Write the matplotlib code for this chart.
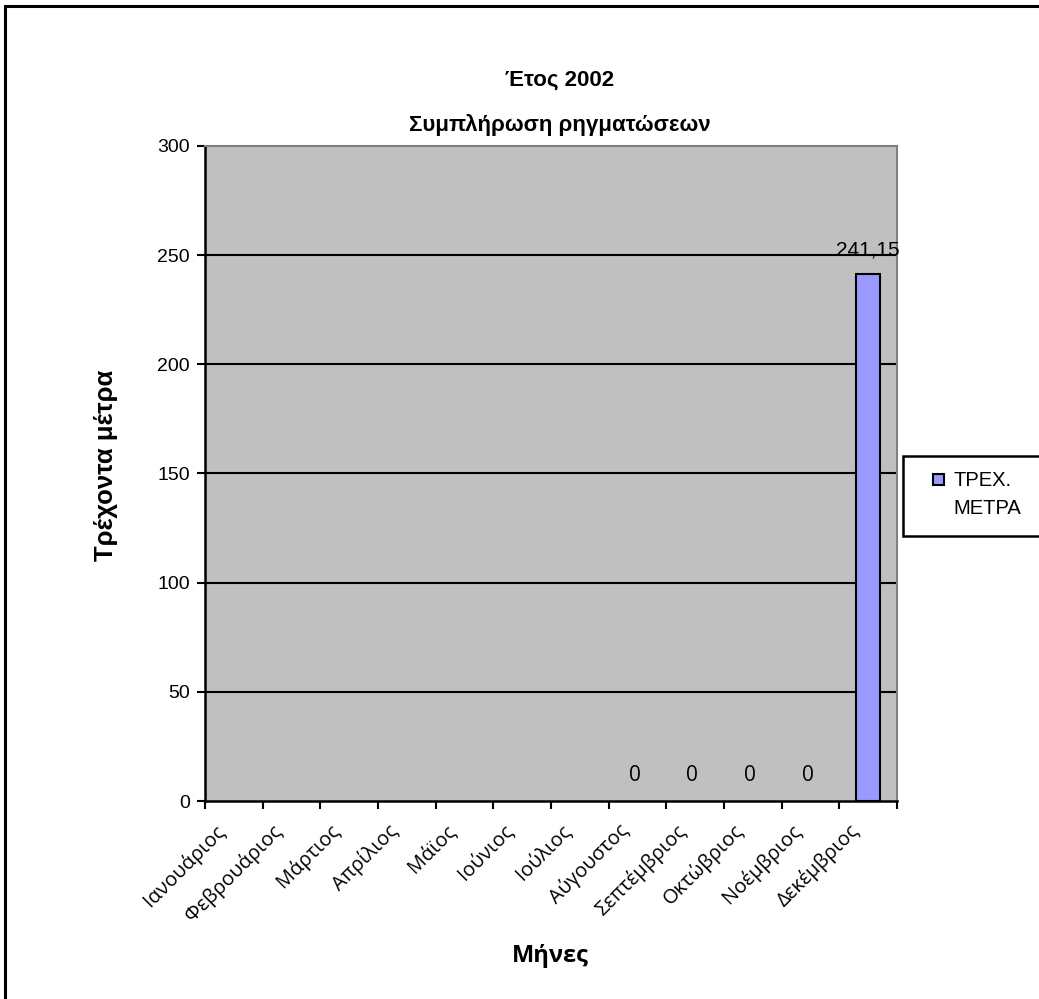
import numpy as np
import matplotlib
matplotlib.use("Agg")
import matplotlib.pyplot as plt
from matplotlib.patches import Rectangle
from matplotlib.transforms import ScaledTranslation

# ---- data ----
months = ["Ιανουάριος", "Φεβρουάριος", "Μάρτιος", "Απρίλιος", "Μάϊος", "Ιούνιος",
          "Ιούλιος", "Αύγουστος", "Σεπτέμβριος", "Οκτώβριος", "Νοέμβριος", "Δεκέμβριος"]
values = [np.nan, np.nan, np.nan, np.nan, np.nan, np.nan, np.nan, 0, 0, 0, 0, 241.15]
series_name = "ΤΡΕΧ. ΜΕΤΡΑ"
title_lines = ["Έτος 2002", "Συμπλήρωση ρηγματώσεων"]
x_label = "Μήνες"
y_label = "Τρέχοντα μέτρα"
y_ticks = [0, 50, 100, 150, 200, 250, 300]

W, H = 1039, 999
fig = plt.figure(figsize=(W / 100, H / 100), dpi=100)
fig.patch.set_facecolor("white")

def fx(px):
    return px / W

def fy(py):
    return 1 - py / H

L, R, T, B = 205, 897, 146, 801
ax = fig.add_axes([fx(L), fy(B), fx(R) - fx(L), fy(T) - fy(B)])
ax.set_facecolor("#C0C0C0")

x = np.arange(len(months))
vals = np.array(values, dtype=float)
bar_color = "#9999FF"
bars = ax.bar(x, np.nan_to_num(vals), width=0.42, color=bar_color,
              edgecolor="black", linewidth=1.5, zorder=3)
for i, v in enumerate(vals):
    if np.isnan(v) or v == 0:
        bars[i].set_visible(False)

ax.set_xlim(-0.5, len(months) - 0.5)
ax.set_ylim(0, 300)
ax.set_yticks(y_ticks)
ax.set_yticklabels([str(t) for t in y_ticks], fontfamily="Liberation Sans", fontsize=14)
for t in y_ticks[1:-1]:
    ax.axhline(t, color="black", linewidth=1.5, zorder=1)

ax.set_xticks(x)
ax.set_xticklabels(months, rotation=45, ha="right", va="top",
                   rotation_mode="anchor", fontfamily="Open Sans", fontsize=14.5)
ax.tick_params(axis="x", which="major", length=0, pad=14)
shift = ScaledTranslation(-14 / 72, 0, fig.dpi_scale_trans)
for lab in ax.get_xticklabels():
    lab.set_transform(lab.get_transform() + shift)
ax.set_xticks(np.arange(-0.5, len(months), 1.0), minor=True)
ax.tick_params(axis="x", which="minor", length=6, width=1.5, direction="out", color="black")
ax.tick_params(axis="y", length=6, width=1.5, direction="out", pad=5, color="black")

for side in ["left", "bottom"]:
    ax.spines[side].set_color("black")
    ax.spines[side].set_linewidth(1.8)
for side in ["top", "right"]:
    ax.spines[side].set_color("#808080")
    ax.spines[side].set_linewidth(1.5)

# data labels
for i, v in enumerate(vals):
    if np.isnan(v):
        continue
    if v == 0:
        ax.annotate("0", (x[i], v), xytext=(-2, 11), textcoords="offset points",
                    ha="center", va="bottom", fontfamily="Open Sans", fontsize=15)
    else:
        ax.annotate(f"{v:.2f}".replace(".", ","), (x[i], v), xytext=(0, 11),
                    textcoords="offset points", ha="center", va="bottom",
                    fontfamily="Liberation Sans", fontsize=15)

# titles
fig.text(fx(560), fy(80), title_lines[0], ha="center", va="center",
         fontfamily="Liberation Sans", fontweight="bold", fontsize=16)
fig.text(fx(560), fy(125), title_lines[1], ha="center", va="center",
         fontfamily="Liberation Sans", fontweight="bold", fontsize=16)
fig.text(fx(550), fy(956), x_label, ha="center", va="center",
         fontfamily="Open Sans", fontweight="bold", fontsize=17)
fig.text(fx(106), fy(465), y_label, ha="center", va="center", rotation=90,
         fontfamily="Liberation Sans", fontweight="bold", fontsize=18.5)

# legend (manual, frame runs past the right edge as in the reference)
fig.patches.append(Rectangle((fx(903), fy(536)), fx(1045) - fx(903), fy(456) - fy(536),
                             transform=fig.transFigure, facecolor="white",
                             edgecolor="black", linewidth=1.8, zorder=5))
fig.patches.append(Rectangle((fx(933), fy(485)), fx(944) - fx(933), fy(474) - fy(485),
                             transform=fig.transFigure, facecolor=bar_color,
                             edgecolor="black", linewidth=1.5, zorder=6))
leg_words = series_name.split()
fig.text(fx(953), fy(480), leg_words[0], ha="left", va="center", zorder=7,
         family=["Liberation Sans"], fontsize=14.5)
fig.text(fx(953), fy(508), leg_words[1], ha="left", va="center", zorder=7,
         family=["Liberation Sans"], fontsize=14.5)

# outer chart border
fig.patches.append(Rectangle((fx(5), fy(1010)), fx(1050) - fx(5), fy(6) - fy(1010),
                             transform=fig.transFigure, facecolor="none",
                             edgecolor="black", linewidth=2.2, zorder=10))

fig.savefig("out.png", dpi=100)
